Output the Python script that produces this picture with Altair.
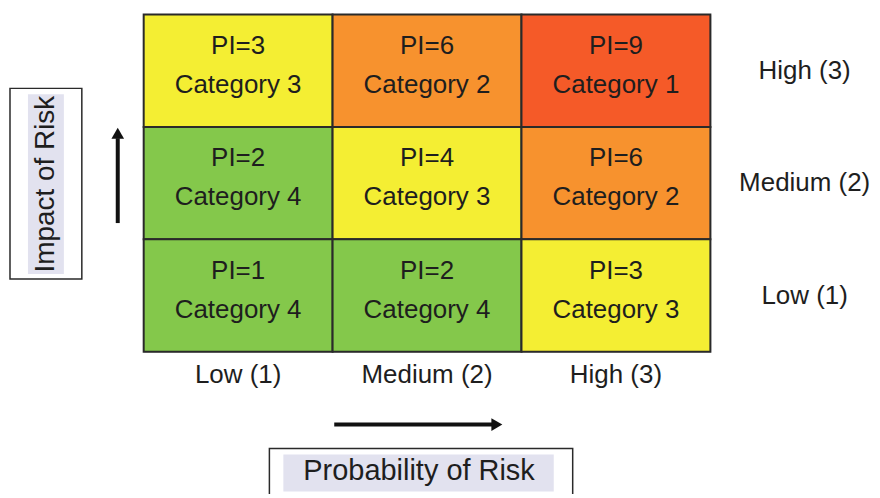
import altair as alt
import pandas as pd

# ---- data ----
probability_levels = ["Low (1)", "Medium (2)", "High (3)"]
impact_levels = ["High (3)", "Medium (2)", "Low (1)"]  # top to bottom

cell_probability = ["Low (1)", "Medium (2)", "High (3)",
                    "Low (1)", "Medium (2)", "High (3)",
                    "Low (1)", "Medium (2)", "High (3)"]
cell_impact = ["High (3)", "High (3)", "High (3)",
               "Medium (2)", "Medium (2)", "Medium (2)",
               "Low (1)", "Low (1)", "Low (1)"]
cell_pi = [3, 6, 9, 2, 4, 6, 1, 2, 3]
cell_category = ["Category 3", "Category 2", "Category 1",
                 "Category 4", "Category 3", "Category 2",
                 "Category 4", "Category 4", "Category 3"]

category_names = ["Category 1", "Category 2", "Category 3", "Category 4"]
category_colors = ["#F55A28", "#F7922E", "#F4EE33", "#84C84B"]

x_title = "Probability of Risk"
y_title = "Impact of Risk"

FONT = "Liberation Sans"
TXT = "#1e1e1e"

df = pd.DataFrame({
    "probability": cell_probability,
    "impact": cell_impact,
    "pi": [f"PI={v}" for v in cell_pi],
    "category": cell_category,
})

W, H = 568, 338

x_enc = alt.X("probability:N", sort=probability_levels,
              scale=alt.Scale(paddingInner=0, paddingOuter=0),
              axis=alt.Axis(orient="bottom", title=None, labelAngle=0,
                            labelFontSize=26, labelFont=FONT, labelColor=TXT,
                            ticks=False, domain=False, labelPadding=10))
y_enc = alt.Y("impact:N", sort=impact_levels,
              scale=alt.Scale(paddingInner=0, paddingOuter=0),
              axis=alt.Axis(orient="right", title=None,
                            labelFontSize=26, labelFont=FONT, labelColor=TXT,
                            labelAlign="center", labelBaseline="middle",
                            ticks=False, domain=False, labelPadding=94))

base = alt.Chart(df).encode(x=x_enc, y=y_enc)

cells = base.mark_rect(stroke="#2a2a2a", strokeWidth=2).encode(
    color=alt.Color("category:N",
                    scale=alt.Scale(domain=category_names, range=category_colors),
                    legend=None)
)
pi_text = base.mark_text(dy=-25, fontSize=26, font=FONT, color=TXT,
                         baseline="middle").encode(text="pi:N")
cat_text = base.mark_text(dy=14, fontSize=26, font=FONT, color=TXT,
                          baseline="middle").encode(text="category:N")

one = pd.DataFrame({"k": [0]})
deco = alt.Chart(one)

# y title box, highlight and text
y_box = deco.mark_rect(fillOpacity=0, stroke="#2a2a2a", strokeWidth=1.5).encode(
    x=alt.value(-134), x2=alt.value(-62), y=alt.value(74), y2=alt.value(265))
y_hl = deco.mark_rect(color="#E2E2EF").encode(
    x=alt.value(-116), x2=alt.value(-80), y=alt.value(80), y2=alt.value(260))
y_txt = deco.mark_text(text=y_title, angle=270, fontSize=28, font=FONT,
                       color=TXT, baseline="middle", align="center").encode(
    x=alt.value(-98), y=alt.value(170))

# vertical arrow
v_shaft = deco.mark_rule(strokeWidth=4, color="#111").encode(
    x=alt.value(-26), y=alt.value(209), y2=alt.value(124))
v_head = deco.mark_point(shape="triangle-up", filled=True, size=160,
                         color="#111", opacity=1).encode(
    x=alt.value(-26), y=alt.value(119))

# horizontal arrow
h_shaft = deco.mark_rule(strokeWidth=4, color="#111").encode(
    x=alt.value(191), x2=alt.value(352), y=alt.value(411))
h_head = deco.mark_point(shape="triangle-right", filled=True, size=160,
                         color="#111", opacity=1).encode(
    x=alt.value(354), y=alt.value(411))

# x title box, highlight and text
x_box = deco.mark_rect(fillOpacity=0, stroke="#2a2a2a", strokeWidth=1.5).encode(
    x=alt.value(126), x2=alt.value(430), y=alt.value(435), y2=alt.value(520))
x_hl = deco.mark_rect(color="#E2E2EF").encode(
    x=alt.value(140), x2=alt.value(411), y=alt.value(441), y2=alt.value(478))
x_txt = deco.mark_text(text=x_title, fontSize=29, font=FONT, color=TXT,
                       baseline="middle", align="center").encode(
    x=alt.value(276), y=alt.value(458))

chart = alt.layer(
    cells, pi_text, cat_text,
    y_box, y_hl, y_txt, v_shaft, v_head,
    h_shaft, h_head, x_box, x_hl, x_txt,
).properties(
    width=W, height=H,
    autosize=alt.AutoSizeParams(type="none"),
    padding={"left": 136, "top": 6, "right": 162, "bottom": 142},
).configure_view(stroke=None).configure(background="white")

chart.save("out.html", embed_options={"renderer": "svg", "actions": False})
